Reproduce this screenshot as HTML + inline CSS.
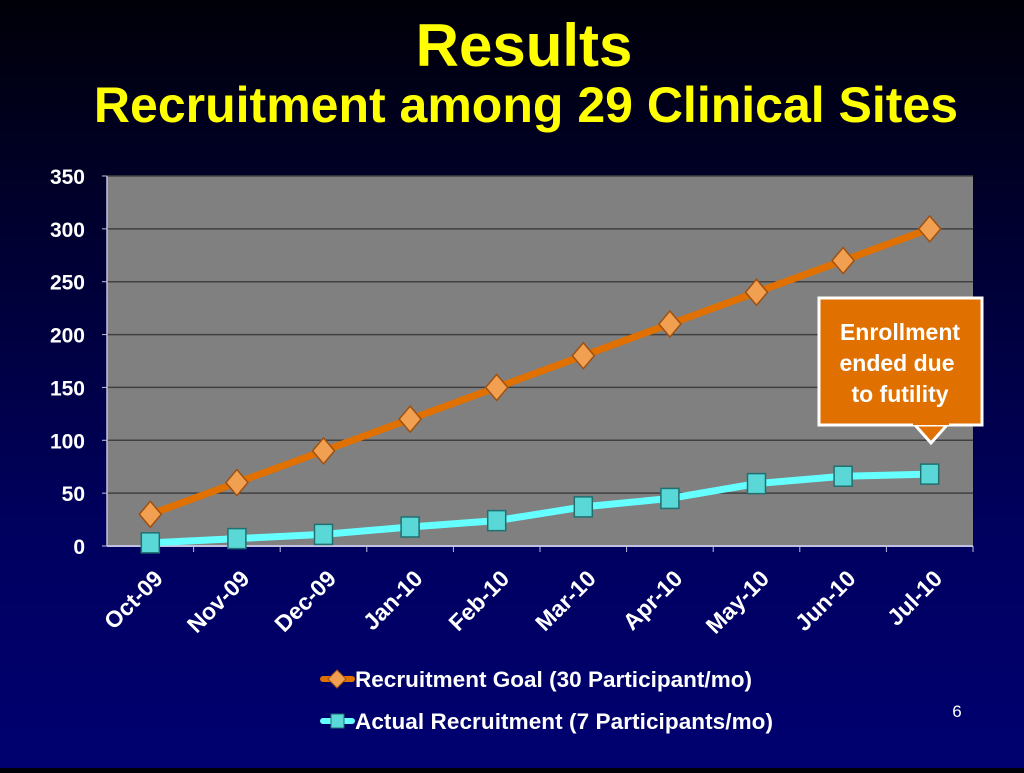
<!DOCTYPE html>
<html><head><meta charset="utf-8"><style>
body{margin:0;width:1024px;height:768px;overflow:hidden;background:linear-gradient(#000008 0%,#000030 30%,#000060 70%,#000070 100%);font-family:"Liberation Sans",sans-serif}
</style></head><body>
<svg width="1024" height="768">
<text x="524" y="66" text-anchor="middle" fill="#ffff00" font-weight="bold" font-size="60">Results</text>
<text x="526" y="122" text-anchor="middle" fill="#ffff00" font-weight="bold" font-size="50">Recruitment among 29 Clinical Sites</text>
<rect x="107" y="176" width="866" height="370" fill="#808080"/>
<g id="grid"></g><g id="lines"></g>
<g>
<rect x="819" y="298" width="163" height="127" fill="#e07000" stroke="#fff" stroke-width="3"/>
<polygon points="915,425 947,425 931,443" fill="#e07000" stroke="#fff" stroke-width="3"/>
<rect x="913" y="420" width="36" height="5" fill="#e07000"/>
<text fill="#fff" font-weight="bold" font-size="23" text-anchor="middle"><tspan x="900" y="340">Enrollment</tspan><tspan x="897" y="371">ended due</tspan><tspan x="900" y="402">to futility</tspan></text>
</g>
<g>
<line x1="323" y1="679" x2="352" y2="679" stroke="#e07000" stroke-width="6" stroke-linecap="round"/>
<polygon points="337,670 346,679 337,688 328,679" fill="#f0a050" stroke="#a05010"/>
<text x="355" y="687" fill="#fff" font-weight="bold" font-size="22.5" textLength="397">Recruitment Goal (30 Participant/mo)</text>
<line x1="323" y1="721" x2="352" y2="721" stroke="#66ffff" stroke-width="6" stroke-linecap="round"/>
<rect x="331" y="714" width="13" height="14" fill="#5ad8d8" stroke="#207070"/>
<text x="355" y="729" fill="#fff" font-weight="bold" font-size="22.5" textLength="418">Actual Recruitment (7 Participants/mo)</text>
</g>
<text x="957" y="717" text-anchor="middle" fill="#fff" font-size="17">6</text>
</svg>
<script>
const categories=["Oct-09","Nov-09","Dec-09","Jan-10","Feb-10","Mar-10","Apr-10","May-10","Jun-10","Jul-10"];
const goal=[30,60,90,120,150,180,210,240,270,300];
const actual=[3,7,11,18,24,37,45,59,66,68];
const yTicks=[0,50,100,150,200,250,300,350];
const NS="http://www.w3.org/2000/svg";
const X0=107,X1=973,Y0=546,Y1=176,YMAX=350;
const bw=(X1-X0)/categories.length;
const xs=i=>X0+bw*(i+0.5);
const ys=v=>Y0-(v/YMAX)*(Y0-Y1);
function mk(t,a,p){const e=document.createElementNS(NS,t);for(const k in a)e.setAttribute(k,a[k]);p.appendChild(e);return e;}
const grid=document.getElementById('grid'),lines=document.getElementById('lines');
yTicks.forEach(v=>{
 const y=ys(v);
 const l=mk('line',{x1:X0,x2:X1,y1:y,y2:y,stroke:v===0?'#c0c0e0':'#404040','stroke-width':v===0?2:1.5},grid);
 
 
 const t=mk('text',{x:85,y:y+8,'text-anchor':'end',fill:'#fff','font-weight':'bold','font-size':21},grid);
 t.textContent=v;
 
 
 mk('line',{x1:X0-5,x2:X0,y1:y,y2:y,stroke:'#c0c0e0'},grid);
});
mk('line',{x1:X0,x2:X0,y1:Y1,y2:Y0,stroke:'#c0c0e0','stroke-width':1.5},grid);
categories.forEach((c,i)=>{
 const xt=X0+bw*(i+1);
 mk('line',{x1:xt,x2:xt,y1:Y0,y2:Y0+6,stroke:'#c0c0e0'},grid);
 const x=xs(i);
 const t=mk('text',{x:0,y:0,transform:`translate(${x+14},${Y0+34}) rotate(-45)`,'text-anchor':'end',fill:'#fff','font-weight':'bold','font-size':23},grid);
 t.textContent=c;
 
 
});
function series(vals,color,name,marker){
 const pl=mk('polyline',{points:vals.map((v,i)=>xs(i)+','+ys(v)).join(' '),fill:'none',stroke:color,'stroke-width':7,'stroke-linejoin':'round'},lines);
 
 
 vals.forEach((v,i)=>{
  const x=xs(i),y=ys(v);let m;
  if(marker==='d')m=mk('polygon',{points:`${x},${y-13} ${x+11},${y} ${x},${y+13} ${x-11},${y}`,fill:'#f0a050',stroke:'#a05010','stroke-width':1.5},lines);
  else m=mk('rect',{x:x-9,y:y-10,width:18,height:20,fill:'#5ad8d8',stroke:'#207070','stroke-width':1.5},lines);
  
  
 });
}
series(goal,'#e07000','goal','d');
series(actual,'#66ffff','actual','s');
</script>
</body></html>
